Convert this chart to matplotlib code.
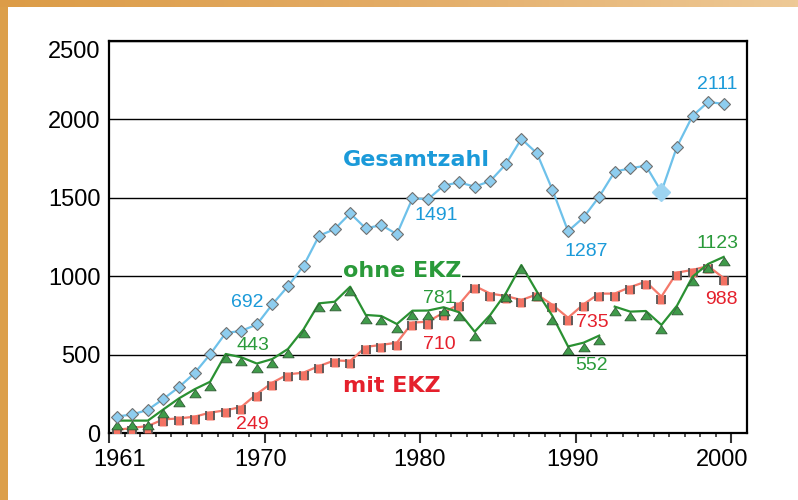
import numpy as np
import matplotlib
matplotlib.use('Agg')
import matplotlib.pyplot as plt
from matplotlib.path import Path
from matplotlib.patches import Rectangle
from matplotlib.colors import LinearSegmentedColormap

# ---------------- data ----------------
years = list(range(1961, 2001))
gesamtzahl = [105, 118, 148, 218, 293, 382, 502, 638, 651, 692,
              821, 936, 1066, 1258, 1300, 1401, 1305, 1326, 1268, 1496,
              1491, 1577, 1599, 1571, 1607, 1714, 1876, 1784, 1550, 1287,
              1375, 1507, 1667, 1688, 1705, 1539, 1826, 2022, 2111, 2099]
ohne_ekz = [79, 79, 79, 151, 221, 279, 327, 504, 483, 443,
            472, 536, 661, 827, 837, 933, 753, 746, 695, 780,
            781, 802, 770, 646, 753, 891, 1071, 901, 746, 552,
            576, 621, 806, 774, 778, 689, 812, 997, 1078, 1123]
mit_ekz = [20, 32, 45, 87, 93, 104, 130, 145, 166, 249,
           321, 374, 385, 427, 463, 459, 549, 562, 576, 704,
           710, 768, 821, 938, 889, 874, 848, 884, 817, 735,
           821, 889, 889, 931, 965, 870, 1023, 1040, 1065, 988]
series_names = ["Gesamtzahl", "ohne EKZ", "mit EKZ"]
highlight_year = 1996          # enlarged marker in Gesamtzahl
ohne_gap_after = 1992          # line interrupted after this year
y_ticks = [0, 500, 1000, 1500, 2000, 2500]
x_tick_labels = ["1961", "1970", "1980", "1990", "2000"]
# labelled points: (series index, year)
labelled = [(0, 1970), (1, 1970), (2, 1970),
            (0, 1981), (1, 1981), (2, 1981),
            (0, 1990), (2, 1990), (1, 1990),
            (0, 1999), (1, 2000), (2, 2000)]

# ---------------- style ----------------
BLUE_LINE = '#6ec1ea'
BLUE_FILL = '#8ecdef'
BLUE_TXT = '#1b9ad9'
GREEN_LINE = '#2a9132'
GREEN_FILL = '#3f9b4a'
GREEN_TXT = '#2a9a3a'
RED_LINE = '#f4786a'
RED_FILL = '#f47263'
RED_TXT = '#e5202c'

fig = plt.figure(figsize=(7.98, 5.0), dpi=100)
fig.patch.set_facecolor('white')

# decorative frame (left strip + top gradient band)
fig.add_artist(Rectangle((0, 0), 8 / 798, 1, transform=fig.transFigure,
                         facecolor='#dc9f4a', edgecolor='none', zorder=0))
band = fig.add_axes([0, 1 - 7 / 500, 1, 7 / 500])
cmap = LinearSegmentedColormap.from_list('band', ['#dc9c47', '#e3ac66', '#eec996'])
band.imshow(np.linspace(0, 1, 256)[None, :], aspect='auto', cmap=cmap)
band.set_axis_off()

ax = fig.add_axes([109 / 798, (500 - 433) / 500, (747 - 109) / 798, (433 - 41) / 500])
ax.set_xlim(1960, 2001)
ax.set_ylim(0, 2500)

x = np.array(years) - 0.5
g = np.array(gesamtzahl, dtype=float)
o = np.array(ohne_ekz, dtype=float)
m = np.array(mit_ekz, dtype=float)

# custom markers
tri = Path([(0, 0), (-0.62, -0.92), (0.62, -0.92), (0, 0)],
           [Path.MOVETO, Path.LINETO, Path.LINETO, Path.CLOSEPOLY])
sq = Path([(-0.5, -0.8), (0.5, -0.8), (0.5, 0.2), (-0.5, 0.2), (-0.5, -0.8)],
          [Path.MOVETO, Path.LINETO, Path.LINETO, Path.LINETO, Path.CLOSEPOLY])
sq_sides = Path([(-0.5, -0.8), (-0.5, 0.2), (0.5, -0.8), (0.5, 0.2)],
                [Path.MOVETO, Path.LINETO, Path.MOVETO, Path.LINETO])

# mit EKZ
ax.plot(x, m, color=RED_LINE, lw=1.6, zorder=3)
ax.plot(x, m, ls='none', marker=sq, ms=10, mfc=RED_FILL, mec='none', zorder=4)
ax.plot(x, m, ls='none', marker=sq_sides, ms=10, mfc='none', mec='#555555',
        mew=1.3, zorder=4)

# ohne EKZ (line with a gap)
cut = years.index(ohne_gap_after) + 1
ax.plot(x[:cut], o[:cut], color=GREEN_LINE, lw=1.6, zorder=5)
ax.plot(x[cut:], o[cut:], color=GREEN_LINE, lw=1.6, zorder=5)
ax.plot(x, o, ls='none', marker=tri, ms=12, mfc=GREEN_FILL, mec='#2f5a33',
        mew=0.6, zorder=6)

# Gesamtzahl
hi = years.index(highlight_year)
mask = np.ones(len(years), bool)
mask[hi] = False
ax.plot(x, g, color=BLUE_LINE, lw=1.6, zorder=7)
ax.plot(x[mask], g[mask], ls='none', marker='D', ms=6.6, mfc=BLUE_FILL,
        mec='#707070', mew=0.8, zorder=8)
ax.plot([x[hi]], [g[hi]], ls='none', marker='D', ms=9, mfc='#9dd4f1',
        mec='#9dd4f1', zorder=8)

# grid / spines / ticks
ax.set_axisbelow(True)
ax.yaxis.grid(True, color='black', lw=1.0)
for s in ax.spines.values():
    s.set_linewidth(1.6)
    s.set_color('black')

ax.set_yticks(y_ticks)
ax.set_yticklabels([str(v) for v in y_ticks], fontsize=17, family='Liberation Sans')
ax.tick_params(axis='y', length=0, pad=6)
ax.get_yticklabels()[-1].set_verticalalignment('top')

ax.set_xticks([1960, 1970, 1980, 1990, 2000])
ax.set_xticklabels(x_tick_labels, fontsize=17, family='Liberation Sans')
ax.set_xticks(np.arange(1960, 2000), minor=True)
ax.tick_params(axis='x', which='major', length=7.5, width=1.5, color='#333333',
               direction='out', pad=4)
ax.tick_params(axis='x', which='minor', length=3, width=1.2, color='#333333',
               direction='out')
xoffs_px = [11, -4, -1, -3, -9]
for lab, dx in zip(ax.get_xticklabels(), xoffs_px):
    lab.set_transform(lab.get_transform() +
                      matplotlib.transforms.ScaledTranslation(dx / 100, 0, fig.dpi_scale_trans))

# series names
name_kw = dict(fontsize=16, fontweight='bold', family='DejaVu Sans', ha='left',
               va='baseline', zorder=9)
ax.text(1975.04, 1705, series_names[0], color=BLUE_TXT, **name_kw)
ax.text(1975.04, 995, series_names[1], color=GREEN_TXT,
        bbox=dict(facecolor='white', edgecolor='none', pad=0.6), **name_kw)
ax.text(1975.04, 263, series_names[2], color=RED_TXT, **name_kw)

# value labels
data = [g, o, m]
colors = [BLUE_TXT, GREEN_TXT, RED_TXT]
offsets_px = [(-10, 21.5), (-4, 18.5), (-5, -30.5),
              (8.5, -16.3), (11, 12), (11, -22.8),
              (18, -20.3), (24.4, -5.2), (23, -19.5),
              (9.4, 17.5), (-6.2, 13.9), (-2.2, -21.9)]
for (si, yr), (dx, dy) in zip(labelled, offsets_px):
    i = years.index(yr)
    ax.annotate(f"{int(data[si][i])}", xy=(x[i], data[si][i]), xytext=(dx, dy),
                textcoords='offset pixels', ha='center', va='center',
                fontsize=14, family='Liberation Sans', color=colors[si], zorder=10)

fig.savefig('out.png', dpi=100)
